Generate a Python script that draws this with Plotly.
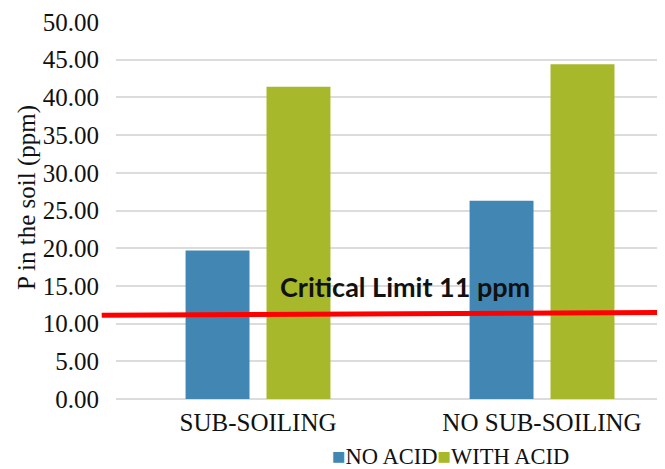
import plotly.graph_objects as go

categories = ["SUB-SOILING", "NO SUB-SOILING"]
no_acid = [19.7, 26.3]
with_acid = [41.4, 44.4]
series_names = ["NO ACID", "WITH ACID"]
critical_line = [11.1, 11.5]   # read at left and right ends of the red line
critical_label = "Critical Limit 11 ppm"
y_title = "P in the soil (ppm)"
y_ticks = [0, 5, 10, 15, 20, 25, 30, 35, 40, 45, 50]
y_range = [0, 50]

BLUE = "#4287b3"
GREEN = "#a8b82b"
SERIF = "Liberation Serif, Times New Roman, serif"


def to_paper(v):
    return (v - y_range[0]) / (y_range[1] - y_range[0])


fig = go.Figure()
fig.add_trace(go.Bar(x=categories, y=no_acid, name=series_names[0],
                     marker=dict(color=BLUE, line=dict(width=0))))
fig.add_trace(go.Bar(x=categories, y=with_acid, name=series_names[1],
                     marker=dict(color=GREEN, line=dict(width=0))))

# red critical-limit line (paper refs so it may extend left of the plot area)
fig.add_shape(type="line", xref="paper", yref="paper",
              x0=-0.026, x1=1.02,
              y0=to_paper(critical_line[0]), y1=to_paper(critical_line[1]),
              line=dict(color="#ff0000", width=5), layer="above")

fig.add_annotation(text="<b>" + critical_label + "</b>", xref="paper", yref="y",
                   x=0.526, y=14.9, showarrow=False,
                   font=dict(family="Lato, Open Sans, sans-serif", size=27, color="#111111"))

# y-axis title placed as annotation for exact position
fig.add_annotation(text=y_title, xref="paper", yref="paper", x=-0.162, y=0.533,
                   textangle=-90, showarrow=False, xanchor="center", yanchor="middle",
                   font=dict(family=SERIF, size=25, color="#111111"))

# legend as inline text with coloured squares
legend_text = (f"<span style='color:{BLUE}'>■</span>{series_names[0]}"
               f"<span style='color:{GREEN}'>■</span>{series_names[1]}")
fig.add_annotation(text=legend_text, xref="paper", yref="paper",
                   x=(450 - 116) / 549, y=-0.152, showarrow=False,
                   xanchor="center", yanchor="middle",
                   font=dict(family=SERIF, size=22.5, color="#111111"))

fig.update_layout(
    width=665, height=469,
    margin=dict(l=108, r=8, t=14, b=77.7),
    paper_bgcolor="white", plot_bgcolor="white",
    barmode="group", bargap=0.43, bargroupgap=0.21,
    showlegend=False,
    font=dict(family=SERIF, color="#111111"),
)

fig.update_xaxes(range=[-0.5, 1.433], showgrid=False, zeroline=False, showline=False,
                 ticks="", automargin=False,
                 tickfont=dict(family=SERIF, size=25, color="#111111"),
                 ticklabelstandoff=6)
fig.update_yaxes(range=y_range, tickvals=y_ticks, tickformat=".2f",
                 showgrid=True, gridcolor="#dcdcdc", gridwidth=2,
                 zeroline=True, zerolinecolor="#dcdcdc", zerolinewidth=2,
                 showline=False, ticks="", automargin=False,
                 tickfont=dict(family=SERIF, size=25, color="#111111"),
                 ticklabelstandoff=16)

fig.write_html("out.html")
